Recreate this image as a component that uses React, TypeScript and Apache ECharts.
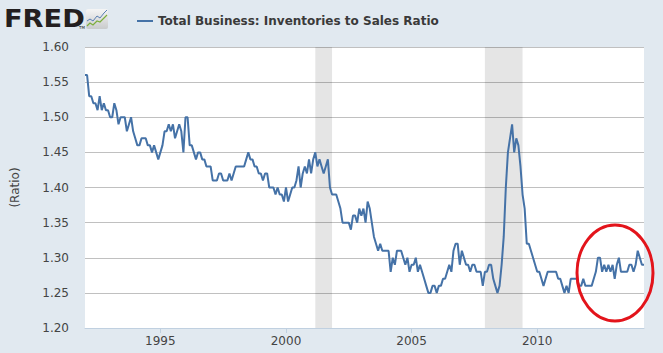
import React, { useEffect, useRef } from "react";
import * as echarts from "echarts";

const startYear = 1992;
const seriesName = "Total Business: Inventories to Sales Ratio";
const yAxisName = "(Ratio)";
const tickYears = [1995, 2000, 2005, 2010];
const recessions: [string, string][] = [
  ["2001-03", "2001-11"],
  ["2007-12", "2009-06"],
];

const ratio1992_1997 = [
  1.56, 1.56, 1.53, 1.53, 1.52, 1.52, 1.51, 1.53, 1.51, 1.52, 1.51, 1.51,
  1.5, 1.5, 1.52, 1.51, 1.49, 1.5, 1.5, 1.5, 1.48, 1.49, 1.5, 1.48,
  1.47, 1.46, 1.46, 1.47, 1.47, 1.47, 1.46, 1.46, 1.45, 1.46, 1.45, 1.44,
  1.45, 1.46, 1.48, 1.48, 1.49, 1.48, 1.49, 1.47, 1.48, 1.49, 1.48, 1.45,
  1.5, 1.5, 1.46, 1.46, 1.45, 1.44, 1.45, 1.45, 1.44, 1.44, 1.43, 1.43,
  1.43, 1.41, 1.41, 1.41, 1.42, 1.42, 1.41, 1.41, 1.41, 1.42, 1.41, 1.42,
];
const ratio1998_2003 = [
  1.43, 1.43, 1.43, 1.43, 1.43, 1.44, 1.45, 1.44, 1.44, 1.43, 1.43, 1.42,
  1.42, 1.41, 1.42, 1.42, 1.4, 1.4, 1.4, 1.39, 1.4, 1.39, 1.39, 1.38,
  1.4, 1.38, 1.39, 1.4, 1.4, 1.41, 1.43, 1.4, 1.42, 1.43, 1.42, 1.44,
  1.42, 1.44, 1.45, 1.43, 1.44, 1.43, 1.42, 1.43, 1.44, 1.4, 1.39, 1.39,
  1.39, 1.38, 1.37, 1.35, 1.35, 1.35, 1.35, 1.34, 1.36, 1.36, 1.35, 1.37,
  1.36, 1.37, 1.35, 1.38, 1.37, 1.35, 1.33, 1.32, 1.31, 1.32, 1.31, 1.31,
];
const ratio2004_2009 = [
  1.31, 1.31, 1.28, 1.3, 1.29, 1.31, 1.31, 1.31, 1.3, 1.29, 1.3, 1.28,
  1.29, 1.29, 1.3, 1.28, 1.29, 1.28, 1.27, 1.26, 1.25, 1.25, 1.26, 1.26,
  1.25, 1.26, 1.26, 1.27, 1.27, 1.28, 1.29, 1.28, 1.31, 1.32, 1.32, 1.29,
  1.31, 1.3, 1.29, 1.29, 1.28, 1.29, 1.29, 1.28, 1.28, 1.28, 1.26, 1.28,
  1.28, 1.29, 1.29, 1.27, 1.26, 1.25, 1.26, 1.29, 1.33, 1.4, 1.45, 1.47,
  1.49, 1.45, 1.47, 1.46, 1.43, 1.39, 1.37, 1.32, 1.32, 1.31, 1.3, 1.29,
];
const ratio2010_2014 = [
  1.28, 1.28, 1.27, 1.26, 1.27, 1.28, 1.28, 1.28, 1.28, 1.28, 1.27, 1.27,
  1.26, 1.25, 1.26, 1.25, 1.27, 1.27, 1.27, 1.27, 1.26, 1.26, 1.27, 1.26,
  1.26, 1.26, 1.26, 1.27, 1.28, 1.3, 1.3, 1.28, 1.29, 1.28, 1.29, 1.28,
  1.29, 1.27, 1.29, 1.3, 1.28, 1.28, 1.28, 1.28, 1.29, 1.29, 1.28, 1.29,
  1.31, 1.3, 1.29, 1.29,
];
const ratio = [...ratio1992_1997, ...ratio1998_2003, ...ratio2004_2009, ...ratio2010_2014];

// x position in fractional years (month index i -> startYear + i/12)
const monthX = (i: number) => startYear + i / 12;
const ymX = (s: string) => {
  const [y, m] = s.split("-").map(Number);
  return y + (m - 1) / 12;
};

const FONT = "DejaVu Sans";

export default function App() {
  const ref = useRef<HTMLDivElement>(null);
  useEffect(() => {
    if (!ref.current) return;
    const chart = echarts.init(ref.current, undefined, { renderer: "svg" });
    const data = ratio.map((v, i) => [monthX(i), v]);
    chart.setOption({
      animation: false,
      backgroundColor: "#E1E9F0",
      grid: {
        left: 85,
        right: 19,
        top: 47,
        bottom: 25,
        show: true,
        backgroundColor: "#ffffff",
        borderWidth: 0,
      },
      legend: {
        left: 132,
        top: 10,
        icon: "rect",
        itemWidth: 16,
        itemHeight: 2,
        data: [seriesName],
        selectedMode: false,
        textStyle: { color: "#3a3a3a", fontSize: 12, fontWeight: "bold", fontFamily: FONT },
      },
      xAxis: {
        type: "value",
        min: monthX(0),
        max: monthX(ratio.length - 1),
        axisLine: { lineStyle: { color: "#C0D0E0", width: 1 } },
        axisTick: { show: true, length: 5, lineStyle: { color: "#C0D0E0" }, customValues: tickYears },
        axisLabel: {
          customValues: tickYears,
          formatter: (v: number) => String(Math.round(v)),
          color: "#444",
          fontSize: 12,
          fontFamily: FONT,
          margin: 7,
        },
        splitLine: { show: false },
      },
      yAxis: {
        type: "value",
        min: 1.2,
        max: 1.6,
        interval: 0.05,
        name: yAxisName,
        nameLocation: "middle",
        nameRotate: 90,
        nameGap: 64,
        nameTextStyle: { color: "#444", fontSize: 12, fontFamily: FONT },
        axisLine: { show: false },
        axisTick: { show: false },
        axisLabel: {
          formatter: (v: number) => v.toFixed(2),
          color: "#444",
          fontSize: 12,
          fontFamily: FONT,
          margin: 16,
        },
        splitLine: { lineStyle: { color: "#C0C0C0", width: 1 } },
      },
      series: [
        {
          name: seriesName,
          type: "line",
          data,
          showSymbol: false,
          color: "#4572A7",
          lineStyle: { color: "#4572A7", width: 2 },
          markArea: {
            silent: true,
            itemStyle: { color: "rgba(0,0,0,0.1)" },
            data: recessions.map(([a, b]) => [{ xAxis: ymX(a) }, { xAxis: ymX(b) }]),
          },
        },
      ],
      graphic: [
        {
          type: "text",
          left: 4,
          top: 6,
          scaleX: 1.09,
          style: {
            text: "FRED",
            fill: "#231F20",
            font: `bold 25px '${FONT}'`,
          },
        },
        {
          type: "text",
          left: 79,
          top: 25,
          style: { text: "TM", fill: "#231F20", font: `4px '${FONT}'` },
        },
        {
          type: "rect",
          shape: { x: 86, y: 9, width: 22, height: 20, r: 2 },
          style: {
            fill: new echarts.graphic.LinearGradient(0, 0, 0, 1, [
              { offset: 0, color: "#f5f5f5" },
              { offset: 1, color: "#c9cbcc" },
            ]),
          },
        },
        {
          type: "polyline",
          shape: { points: [[87, 21], [90, 19], [93, 21], [97, 16], [100, 18], [104, 13], [107, 10]] },
          style: { stroke: "#5a7fb2", lineWidth: 1, fill: "none" },
        },
        {
          type: "polyline",
          shape: { points: [[87, 26], [90, 23], [93, 25], [97, 21], [100, 22], [104, 18], [107, 15]] },
          style: { stroke: "#7cae3c", lineWidth: 1.2, fill: "none" },
        },
        {
          type: "ellipse",
          shape: { cx: 615, cy: 273, rx: 38, ry: 48 },
          style: { stroke: "#E3141B", lineWidth: 3, fill: "none" },
          z: 100,
        },
      ],
    });
    return () => chart.dispose();
  }, []);
  return (
    <div
      ref={ref}
      style={{ position: "fixed", left: 0, top: 0, width: 663, height: 353 }}
    />
  );
}
